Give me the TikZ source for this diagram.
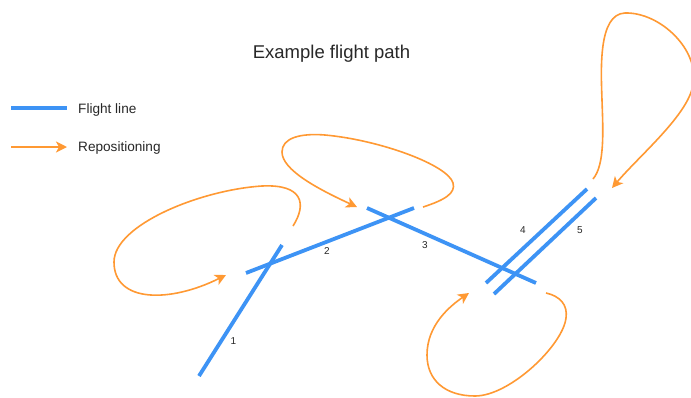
\documentclass[tikz,border=0pt]{standalone}
\usepackage{fontspec}
\setmainfont{Liberation Sans}
\usetikzlibrary{arrows.meta}
\definecolor{flightblue}{RGB}{61,147,245}
\definecolor{repoorange}{RGB}{255,153,51}
\definecolor{textgray}{RGB}{40,40,40}
\tikzset{
  flightline/.style={draw=flightblue, line width=3.8pt},
  repo/.style={draw=repoorange, line width=1.6pt, -{Stealth[length=11pt,width=11pt,inset=3pt]}},
  numlabel/.style={font=\fontsize{10}{12}\selectfont, text=textgray, inner sep=0pt},
  legendtext/.style={font=\fontsize{13.6}{16}\selectfont, text=textgray, anchor=west, inner sep=0pt},
}
\begin{document}
\begin{tikzpicture}[x=1pt,y=-1pt]
\useasboundingbox (0,0) rectangle (691,397);
\clip (0,0) rectangle (691,397);
\fill[white] (0,0) rectangle (691,397);
% title
\node[font=\fontsize{18.5}{22}\selectfont, text=textgray, inner sep=0pt] (title) at (331.5,54) {Example flight path};
% legend
\coordinate (lgA) at (11,108);
\coordinate (lgB) at (67,108);
\coordinate (lgC) at (11,147);
\coordinate (lgD) at (67,147);
\draw[flightline] (lgA) -- (lgB);
\draw[repo] (lgC) -- (lgD);
\node[legendtext] (lgt1) at (78,110) {Flight line};
\node[legendtext] (lgt2) at (78,148) {Repositioning};
% flight line end points
\coordinate (l1s) at (199,376); \coordinate (l1e) at (282,245);
\coordinate (l2s) at (246,273); \coordinate (l2e) at (414,208);
\coordinate (l3s) at (367,208); \coordinate (l3e) at (536,283);
\coordinate (l4s) at (486,283); \coordinate (l4e) at (587,189);
\coordinate (l5s) at (494,294); \coordinate (l5e) at (596,198);
\draw[flightline] (l1s) -- (l1e);
\draw[flightline] (l2s) -- (l2e);
\draw[flightline] (l3s) -- (l3e);
\draw[flightline] (l4s) -- (l4e);
\draw[flightline] (l5s) -- (l5e);
% labels
\node[numlabel] (n1) at (233.5,341) {1};
\node[numlabel] (n2) at (327,251) {2};
\node[numlabel] (n3) at (425,245) {3};
\node[numlabel] (n4) at (523,230) {4};
\node[numlabel] (n5) at (580,230) {5};
% repositioning curves
\coordinate (aS) at (293,226); \coordinate (aE) at (226,275);
\draw[repo] (aS) .. controls (307,204) and (303,184) .. (262,186)
  .. controls (200,190) and (114,225) .. (114,262)
  .. controls (114,303) and (170,303) .. (aE);
\coordinate (bS) at (423,207); \coordinate (bE) at (357,207);
\draw[repo] (bS) .. controls (445,200) and (456,193) .. (453,183)
  .. controls (448,165) and (380,140) .. (325,135)
  .. controls (300,133) and (282,138) .. (282,152)
  .. controls (282,170) and (318,189) .. (bE);
\coordinate (cS) at (546,293); \coordinate (cE) at (469,293);
\draw[repo] (cS) .. controls (560,296) and (568,305) .. (566,318)
  .. controls (563,345) and (510,396) .. (475,396)
  .. controls (445,396) and (427,380) .. (427,355)
  .. controls (427,325) and (450,306) .. (cE);
\coordinate (dS) at (593,179); \coordinate (dE) at (612,188);
\draw[repo] (dS) .. controls (605,165) and (603,130) .. (602,100)
  .. controls (601,70) and (598,14) .. (625,13)
  .. controls (660,12) and (700,50) .. (693,85)
  .. controls (688,115) and (640,155) .. (dE);
\end{tikzpicture}
\end{document}
